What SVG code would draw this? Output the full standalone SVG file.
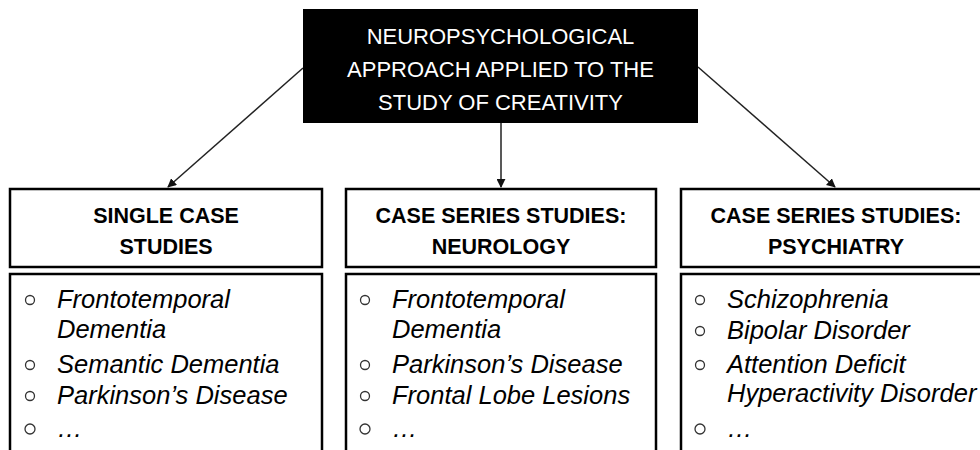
<svg xmlns="http://www.w3.org/2000/svg" width="980" height="450" viewBox="0 0 980 450">
  <style>
    .title { font-family: "Liberation Sans", Arial, sans-serif; font-size: 22px; fill: #ffffff; text-anchor: middle; }
    .head { font-family: "Liberation Sans", Arial, sans-serif; font-size: 21.5px; font-weight: bold; fill: #000; text-anchor: middle; }
    .item { font-family: "Liberation Sans", Arial, sans-serif; font-size: 25.5px; font-style: italic; fill: #000; }
    .box { fill: #fff; stroke: #000; stroke-width: 2.5; }
    .bullet { fill: none; stroke: #333; stroke-width: 1.3; }
    .conn { stroke: #222; stroke-width: 1.5; fill: none; marker-end: url(#arrow); }
  </style>
  <defs>
    <marker id="arrow" viewBox="0 0 10 10" refX="9" refY="5" markerWidth="6" markerHeight="6" markerUnits="strokeWidth" orient="auto">
      <path d="M0,0 L10,5 L0,10 Z" fill="#111"/>
    </marker>
  </defs>
  <rect width="980" height="450" fill="#fff"/>

  <!-- connectors from the root to the three categories -->
  <g id="connectors">
    <line class="conn" x1="303" y1="68" x2="168" y2="187"/>
    <line class="conn" x1="501" y1="123" x2="501" y2="187"/>
    <line class="conn" x1="698" y1="67" x2="835" y2="187"/>
  </g>

  <!-- root node -->
  <g id="root">
    <rect x="303" y="9" width="395" height="114" fill="#000"/>
    <text class="title" x="500.5" y="44">NEUROPSYCHOLOGICAL</text>
    <text class="title" x="500.5" y="77">APPROACH APPLIED TO THE</text>
    <text class="title" x="500.5" y="110">STUDY OF CREATIVITY</text>
  </g>

  <!-- single case studies -->
  <g id="single-case">
    <rect class="box" x="10" y="189" width="312" height="78"/>
    <text class="head" x="166" y="223">SINGLE CASE</text>
    <text class="head" x="166" y="254">STUDIES</text>
    <rect class="box" x="10" y="274" width="312" height="190"/>
    <circle class="bullet" cx="30" cy="300" r="4.5"/>
    <text class="item" x="57" y="308">Frontotemporal</text>
    <text class="item" x="57" y="338">Dementia</text>
    <circle class="bullet" cx="30" cy="365" r="4.5"/>
    <text class="item" x="57" y="373">Semantic Dementia</text>
    <circle class="bullet" cx="30" cy="396" r="4.5"/>
    <text class="item" x="57" y="404">Parkinson’s Disease</text>
    <circle class="bullet" cx="30" cy="429" r="5"/>
    <text class="item" x="57" y="437">…</text>
  </g>

  <!-- case series: neurology -->
  <g id="neurology">
    <rect class="box" x="346" y="189" width="310" height="78"/>
    <text class="head" x="501" y="223">CASE SERIES STUDIES:</text>
    <text class="head" x="501" y="254">NEUROLOGY</text>
    <rect class="box" x="346" y="274" width="310" height="190"/>
    <circle class="bullet" cx="365" cy="300" r="4.5"/>
    <text class="item" x="392" y="308">Frontotemporal</text>
    <text class="item" x="392" y="338">Dementia</text>
    <circle class="bullet" cx="365" cy="365" r="4.5"/>
    <text class="item" x="392" y="373">Parkinson’s Disease</text>
    <circle class="bullet" cx="365" cy="396" r="4.5"/>
    <text class="item" x="392" y="404">Frontal Lobe Lesions</text>
    <circle class="bullet" cx="365" cy="429" r="5"/>
    <text class="item" x="392" y="437">…</text>
  </g>

  <!-- case series: psychiatry -->
  <g id="psychiatry">
    <rect class="box" x="681" y="189" width="320" height="78"/>
    <text class="head" x="836" y="223">CASE SERIES STUDIES:</text>
    <text class="head" x="836" y="254">PSYCHIATRY</text>
    <rect class="box" x="681" y="274" width="320" height="190"/>
    <circle class="bullet" cx="700" cy="300" r="4.5"/>
    <text class="item" x="727" y="308">Schizophrenia</text>
    <circle class="bullet" cx="700" cy="331" r="4.5"/>
    <text class="item" x="727" y="339">Bipolar Disorder</text>
    <circle class="bullet" cx="700" cy="365" r="4.5"/>
    <text class="item" x="727" y="373">Attention Deficit</text>
    <text class="item" x="727" y="402">Hyperactivity Disorder</text>
    <circle class="bullet" cx="700" cy="429" r="5"/>
    <text class="item" x="727" y="437">…</text>
  </g>
</svg>
